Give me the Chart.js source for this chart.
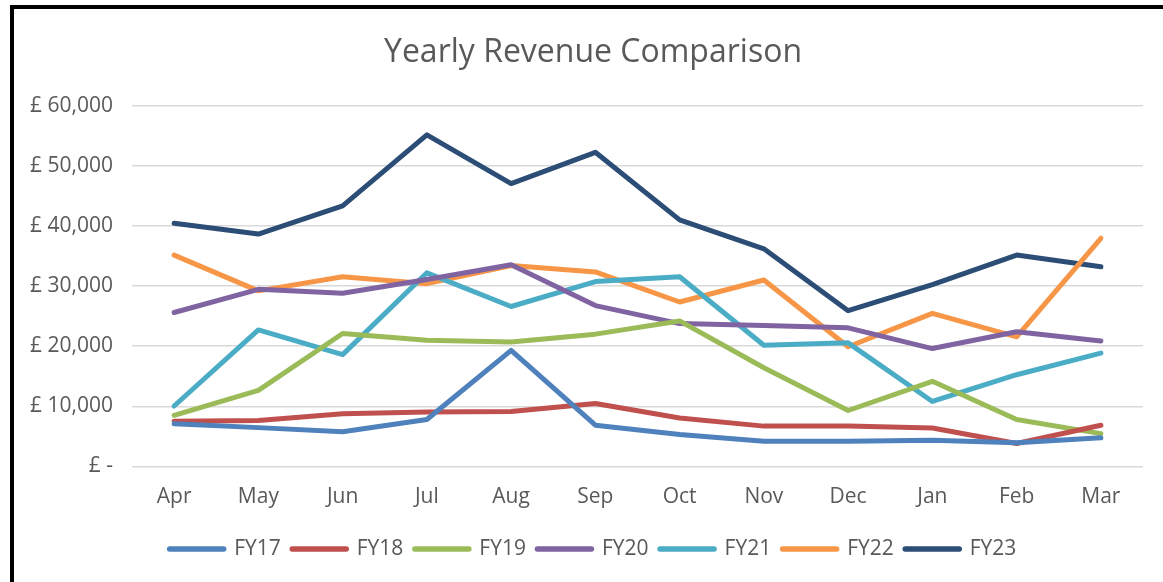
<!DOCTYPE html>
<html>
<head>
<meta charset="utf-8">
<script src="https://cdn.jsdelivr.net/npm/chart.js@4/dist/chart.umd.min.js"></script>
<style>
  html, body { margin: 0; padding: 0; background: #fff; overflow: hidden; }
  #wrap { position: relative; width: 1163px; height: 582px; overflow: hidden; }
  #frame {
    position: absolute; left: 10px; top: 5px; width: 1400px; height: 800px;
    border-left: 4px solid #000; border-top: 4px solid #000; pointer-events: none;
  }
  canvas { position: absolute; left: 0; top: 0; }
</style>
</head>
<body>
<div id="wrap">
  <canvas id="chart-line" width="1164" height="582"></canvas>
  <div id="frame"></div>
</div>
<script>
const months = ['Apr', 'May', 'Jun', 'Jul', 'Aug', 'Sep', 'Oct', 'Nov', 'Dec', 'Jan', 'Feb', 'Mar'];
const yTicks = [0, 10000, 20000, 30000, 40000, 50000, 60000];

const fy17 = [7100, 6450, 5750, 7800, 19300, 6850, 5300, 4200, 4200, 4350, 3950, 4750];
const fy18 = [7500, 7650, 8750, 9050, 9150, 10450, 8050, 6700, 6700, 6400, 3800, 6850];
const fy19 = [8500, 12650, 22100, 21000, 20700, 22000, 24200, 16400, 9300, 14150, 7800, 5450];
const fy20 = [25600, 29450, 28800, 31100, 33550, 26750, 23750, 23450, 23050, 19600, 22400, 20850];
const fy21 = [10050, 22700, 18600, 32200, 26600, 30750, 31550, 20150, 20550, 10800, 15250, 18850];
const fy22 = [35150, 29200, 31550, 30400, 33400, 32350, 27350, 31000, 19900, 25450, 21550, 37950];
const fy23 = [40450, 38650, 43350, 55150, 47050, 52250, 41000, 36200, 25900, 30250, 35150, 33200];

const seriesNames = ['FY17', 'FY18', 'FY19', 'FY20', 'FY21', 'FY22', 'FY23'];
const seriesValues = [fy17, fy18, fy19, fy20, fy21, fy22, fy23];
const seriesColors = ['#4F81BD', '#C0504D', '#9BBB59', '#8064A2', '#4BACC6', '#F79646', '#2C4D75'];

const textColor = '#595959';
const fontFamily = '"Open Sans", "Noto Sans", sans-serif';

const ctx = document.getElementById('chart-line').getContext('2d');
const defaultLabels = Chart.defaults.plugins.legend.labels.generateLabels;

new Chart(ctx, {
  type: 'line',
  data: {
    labels: months,
    datasets: seriesNames.map((name, i) => ({
      label: name,
      data: seriesValues[i],
      borderColor: seriesColors[i],
      backgroundColor: seriesColors[i],
      borderWidth: 5,
      borderCapStyle: 'round',
      borderJoinStyle: 'round',
      tension: 0,
      fill: false,
      pointRadius: 0,
      pointHoverRadius: 0,
    })),
  },
  options: {
    responsive: false,
    animation: false,
    events: [],
    layout: { padding: { left: 22, right: 0, top: 10, bottom: 12.5 } },
    plugins: {
      title: {
        display: true,
        text: 'Yearly Revenue Comparison',
        color: textColor,
        font: { family: fontFamily, size: 32, weight: 'normal' },
        padding: { top: 24, bottom: 33.3 },
      },
      legend: {
        display: true,
        position: 'bottom',
        labels: {
          usePointStyle: true,
          pointStyle: 'line',
          pointStyleWidth: 54,
          boxHeight: 21,
          padding: 11.5,
          color: textColor,
          font: { family: fontFamily, size: 21 },
          generateLabels: (chart) => defaultLabels(chart).map((item) => ({ ...item, lineWidth: 5.5, lineCap: 'round' })),
        },
      },
      tooltip: { enabled: false },
    },
    scales: {
      x: {
        offset: true,
        grid: { display: false, drawTicks: false },
        border: { display: false },
        ticks: {
          color: textColor,
          font: { family: fontFamily, size: 21 },
          padding: 17.7,
          maxRotation: 0,
        },
      },
      y: {
        min: yTicks[0],
        max: yTicks[yTicks.length - 1],
        afterFit: (scale) => { scale.width = 110; },
        afterBuildTicks: (scale) => { scale.ticks = yTicks.map((v) => ({ value: v })); },
        grid: { color: '#D9D9D9', lineWidth: 1.5, drawTicks: false },
        border: { display: false },
        ticks: {
          color: textColor,
          font: { family: fontFamily, size: 21 },
          padding: 19,
          callback: (value) => (value === 0 ? '£ -' : `£ ${Number(value).toLocaleString('en-GB')}`),
        },
      },
      // empty right-hand gutter, as in the source chart frame
      y2: {
        position: 'right',
        min: 0,
        max: 1,
        afterFit: (scale) => { scale.width = 21; },
        grid: { display: false, drawTicks: false },
        border: { display: false },
        ticks: { display: false },
      },
    },
  },
});
</script>
</body>
</html>
